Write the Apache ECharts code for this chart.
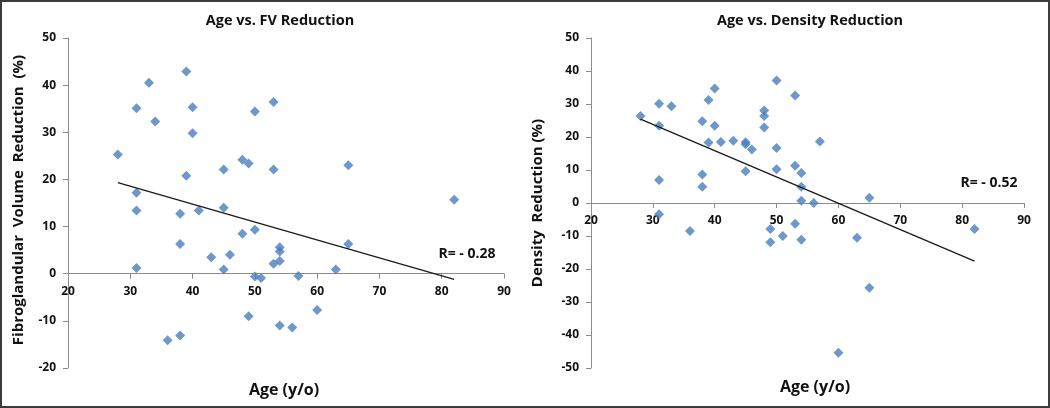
<!DOCTYPE html>
<html>
<head>
<meta charset="utf-8">
<title>Age vs. Reduction</title>
<script src="https://cdn.jsdelivr.net/npm/echarts@6/dist/echarts.min.js"></script>
<style>
  html, body { margin: 0; padding: 0; background: #fff; }
  #chart { position: absolute; left: 0; top: 0; width: 1050px; height: 408px; }
  #frame {
    position: absolute; left: 0; top: 0; width: 1050px; height: 408px;
    box-sizing: border-box; border: 2px solid #3c3c3c; pointer-events: none;
  }
</style>
</head>
<body>
<div id="chart"></div>
<div id="frame"></div>
<script>
// left panel: age vs fibroglandular volume reduction
const fvAge = [28, 31, 31, 31, 31, 33, 34, 39, 39, 40, 40, 38, 38, 41, 43, 45, 45, 45, 46, 48, 48, 49,
  50, 50, 50, 51, 49, 53, 53, 53, 54, 54, 54, 54, 56, 57, 60, 63, 65, 65, 82, 36, 38];
const fvReduction = [25.3, 35.1, 17.2, 13.4, 1.2, 40.5, 32.3, 42.9, 20.8, 35.3, 29.8, 12.7, 6.3, 13.4, 3.5,
  22.1, 14.0, 0.9, 4.0, 24.2, 8.5, 23.4, 34.4, 9.3, -0.6, -0.9, -9.0, 36.4, 22.1, 2.1, 5.6, 4.7, 2.7,
  -11.0, -11.4, -0.5, -7.7, 0.9, 23.0, 6.3, 15.7, -14.1, -13.1];
const fvTrendAge = [28, 82];
const fvTrendValue = [19.3, -1.2];

// right panel: age vs density reduction
const densityAge = [28, 31, 31, 31, 31, 33, 36, 38, 38, 38, 39, 39, 40, 40, 41, 43, 45, 45, 45, 46, 48, 48,
  48, 50, 50, 50, 49, 49, 51, 53, 53, 53, 54, 54, 54, 54, 56, 57, 60, 63, 65, 65, 82];
const densityReduction = [26.4, 30.1, 23.4, 7.0, -3.4, 29.3, -8.5, 24.8, 8.6, 4.9, 31.2, 18.3, 34.7, 23.4,
  18.5, 18.9, 18.4, 17.8, 9.6, 16.2, 28.0, 26.4, 22.9, 37.1, 16.7, 10.2, -7.9, -11.9, -10.0, 32.6, 11.3,
  -6.3, 9.1, 4.9, 0.7, -11.1, 0, 18.6, -45.4, -10.5, 1.6, -25.7, -7.9];
const densityTrendAge = [28, 82];
const densityTrendValue = [25.4, -17.6];

const titles = ["Age vs. FV Reduction", "Age vs. Density Reduction"];
const yNames = ["Fibroglandular  Volume  Reduction  (%)", "Density  Reduction (%)"];
const rLabels = ["R= - 0.28", "R= - 0.52"];
const yMin = [-20, -50];
const yMax = 50;

const pairs = (xs, ys) => xs.map((x, i) => [x, ys[i]]);

const font = "'Open Sans', Lato, sans-serif";
const axisGray = "#8c8c8c";
const grids = [
  { left: 68, top: 38, width: 436, height: 330 },
  { left: 591, top: 38, width: 433, height: 330 },
];

// x axis sits on the zero line of the y axis
const makeX = (i) => ({
  type: "value",
  gridIndex: i,
  min: 20,
  max: 90,
  interval: 10,
  position: "bottom",
  offset: -grids[i].height * (0 - yMin[i]) / (yMax - yMin[i]),
  splitLine: { show: false },
  axisLine: { onZero: false, lineStyle: { color: axisGray, width: 1 } },
  axisTick: { length: 5, lineStyle: { color: axisGray } },
  axisLabel: { color: "#111", fontWeight: "bold", fontSize: 12, fontFamily: font, margin: 12 },
});

const makeY = (i) => ({
  type: "value",
  gridIndex: i,
  min: yMin[i],
  max: yMax,
  interval: 10,
  splitLine: { show: false },
  axisLine: { show: true, onZero: false, lineStyle: { color: axisGray, width: 1 } },
  axisTick: { show: true, length: 5, lineStyle: { color: axisGray } },
  axisLabel: { color: "#111", fontWeight: "bold", fontSize: 12, fontFamily: font, margin: 12 },
});

const scatter = (idx, data) => ({
  type: "scatter",
  xAxisIndex: idx,
  yAxisIndex: idx,
  symbol: "diamond",
  symbolSize: 10,
  itemStyle: { color: "#4a7ebb" },
  data: data,
});

const trend = (idx, data) => ({
  type: "line",
  xAxisIndex: idx,
  yAxisIndex: idx,
  symbol: "none",
  lineStyle: { color: "#1a1a1a", width: 1.3 },
  data: data,
});

const textEl = (x, y, text, size, rotate) => ({
  type: "text",
  x: x,
  y: y,
  rotation: rotate ? Math.PI / 2 : 0,
  style: {
    text: text,
    fill: "#111",
    font: "bold " + size + "px " + font,
    textAlign: "center",
    textVerticalAlign: "middle",
  },
});

let chartDom = document.getElementById("chart");
let myChart = echarts.init(chartDom);
let option;

option = {
  animation: false,
  backgroundColor: "#fff",
  grid: grids,
  xAxis: [makeX(0), makeX(1)],
  yAxis: [makeY(0), makeY(1)],
  series: [
    scatter(0, pairs(fvAge, fvReduction)),
    trend(0, pairs(fvTrendAge, fvTrendValue)),
    scatter(1, pairs(densityAge, densityReduction)),
    trend(1, pairs(densityTrendAge, densityTrendValue)),
  ],
  graphic: [
    textEl(280, 21, titles[0], 14.5, false),
    textEl(810, 21, titles[1], 14.5, false),
    textEl(19, 200, yNames[0], 15, true),
    textEl(538, 203, yNames[1], 15, true),
    textEl(284, 390, "Age (y/o)", 16, false),
    textEl(815, 387, "Age (y/o)", 16, false),
    textEl(467, 254, rLabels[0], 14, false),
    textEl(989, 183, rLabels[1], 14, false),
  ],
};

option && myChart.setOption(option);
</script>
</body>
</html>
